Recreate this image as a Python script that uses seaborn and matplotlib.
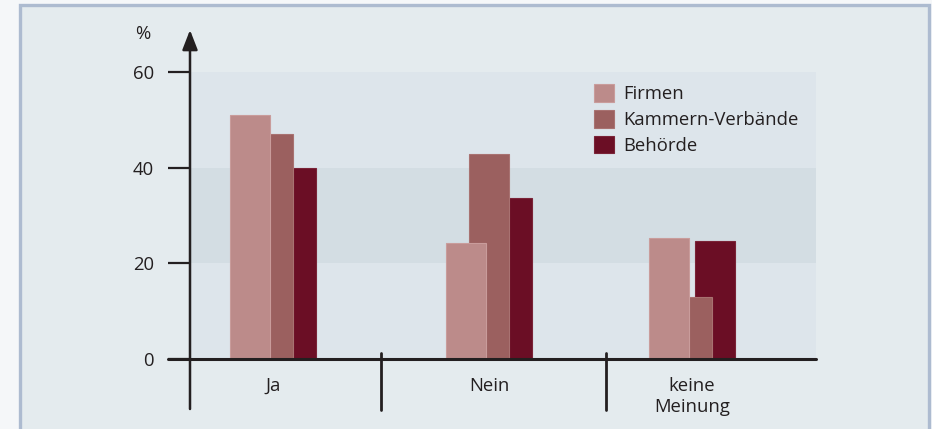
import matplotlib
matplotlib.use("Agg")
import matplotlib.pyplot as plt
import seaborn as sns
import numpy as np
from matplotlib.patches import Rectangle, Patch
from matplotlib.lines import Line2D

# ---- data ----
categories = ["Ja", "Nein", "keine\nMeinung"]
series = ["Firmen", "Kammern-Verbände", "Behörde"]
firmen = [51, 24.3, 25.3]
kammern = [47, 42.8, 12.9]
behoerde = [40, 33.7, 24.7]
y_ticks = [0, 20, 40, 60]

colors = {"Firmen": "#bc8b8a", "Kammern-Verbände": "#9b605f", "Behörde": "#6b0e25"}
edges = {"Firmen": "#c99c9b", "Kammern-Verbände": "#a87271", "Behörde": "#7a2337"}
ink = "#231f20"
fs = 13.3

sns.set_theme(style="white")
plt.rcParams["font.family"] = ["Open Sans", "DejaVu Sans"]
plt.rcParams["font.size"] = fs

W, H = 932, 429
fig = plt.figure(figsize=(W / 100, H / 100), dpi=100)
fig.patch.set_facecolor("#f5f7f9")
fig.add_artist(Rectangle((20 / W, -0.05), (929 - 20) / W, 1 - 5 / H + 0.05,
                         transform=fig.transFigure, facecolor="#e4ebee",
                         edgecolor="#adbbd0", linewidth=2.4, zorder=0))

ax = fig.add_axes([190 / W, (H - 359) / H, 626 / W, 287 / H])
ax.set_facecolor("none")
for sp in ax.spines.values():
    sp.set_visible(False)

# background bands
ax.axhspan(0, 20, color="#dde5eb", zorder=0, lw=0)
ax.axhspan(20, 40, color="#d3dde3", zorder=0, lw=0)
ax.axhspan(40, 60, color="#dde5eb", zorder=0, lw=0)

# layout positions (px-based: group spacing 216 px)
group_pos = np.array([0.0, 1.0, 1.94])
bar_w = 40 / 216
step = 23 / 216
native_w = np.diff(np.sort(group_pos)).min()

vals = {"Firmen": firmen, "Kammern-Verbände": kammern, "Behörde": behoerde}
offsets = {"Firmen": -step, "Kammern-Verbände": 0.0, "Behörde": step}
for s in ["Behörde", "Kammern-Verbände", "Firmen"]:
    sns.barplot(x=group_pos + offsets[s], y=vals[s], native_scale=True,
                width=bar_w / native_w, color=colors[s], saturation=1,
                edgecolor=edges[s], linewidth=0.8, errorbar=None, ax=ax, zorder=3)

ax.set_xlim((190 - 273) / 216, (816 - 273) / 216)
ax.set_ylim(0, 60)
ax.set_yticks(y_ticks)
ax.set_yticklabels([str(v) for v in y_ticks], color=ink)
ax.tick_params(axis="y", left=True, length=16, width=1.6, color=ink, pad=10,
               direction="out", labelsize=fs)
ax.set_xticks(group_pos)
ax.set_xticklabels(categories, color=ink)
ax.tick_params(axis="x", bottom=True, length=0, pad=13, labelsize=fs)
ax.set_xlabel("")
ax.set_ylabel("")
ax.grid(False)

# axes lines
ax.add_line(Line2D([-22 / 626, 1.0], [0, 0], transform=ax.transAxes, color=ink,
                   lw=2.2, clip_on=False, zorder=5))
ax.annotate("", xy=(0, (359 - 30) / 287), xytext=(0, (359 - 409) / 287),
            xycoords="axes fraction", textcoords="axes fraction",
            annotation_clip=False,
            arrowprops=dict(arrowstyle="-|>,head_length=0.9,head_width=0.35",
                            lw=1.8, color=ink, shrinkA=0, shrinkB=0), zorder=5)
for xsep in [(381 - 190) / 626, (606 - 190) / 626]:
    ax.add_line(Line2D([xsep, xsep], [(359 - 353) / 287, (359 - 410) / 287],
                       transform=ax.transAxes, color=ink, lw=2.0, clip_on=False, zorder=5))

fig.text(143 / W, 1 - 34 / H, "%", ha="center", va="center", color=ink, fontsize=fs)

handles = [Patch(facecolor=colors[s], edgecolor=edges[s], linewidth=0.8, label=s) for s in series]
fig.legend(handles=handles, loc="upper left", bbox_to_anchor=(594 / W, 1 - 84 / H),
           frameon=False, borderpad=0, borderaxespad=0, handlelength=1.1,
           handleheight=1.1, handletextpad=0.5, labelspacing=0.36,
           fontsize=fs, labelcolor=ink)

fig.savefig("out.png", dpi=100, facecolor=fig.get_facecolor())
